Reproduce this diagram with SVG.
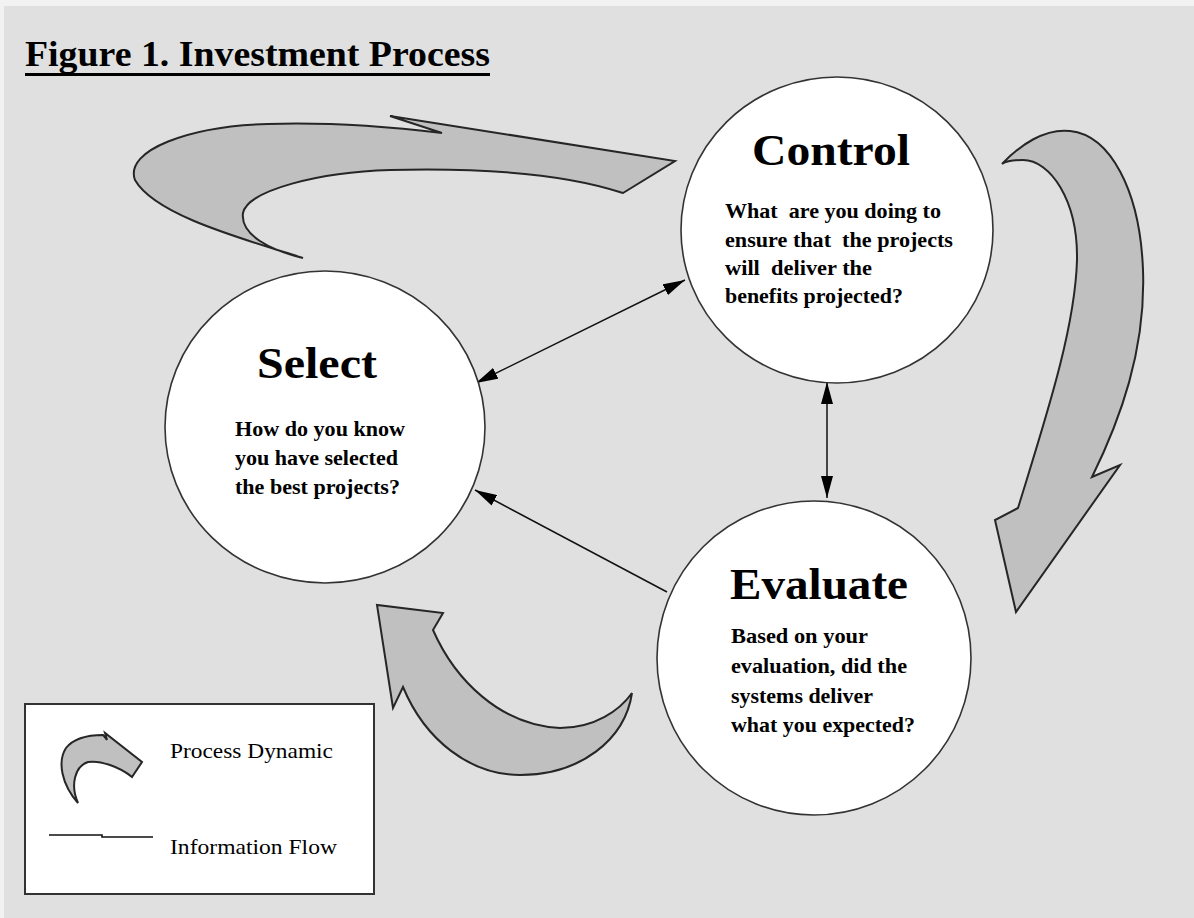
<svg xmlns="http://www.w3.org/2000/svg" width="1194" height="918" viewBox="0 0 1194 918">
  <style>
    .bg { fill: #e0e0e0; }
    .node { fill: #ffffff; stroke: #333333; stroke-width: 1.6; }
    .dyn { fill: #c0c0c0; stroke: #262626; stroke-width: 2; stroke-linejoin: miter; }
    .flow { fill: none; stroke: #111111; stroke-width: 1.5; }
    .head { font-family: "Liberation Serif", "Times New Roman", serif; font-weight: bold; font-size: 45px; fill: #000; }
    .body { font-family: "Liberation Serif", "Times New Roman", serif; font-weight: bold; font-size: 21px; fill: #000; }
    .title { font-family: "Liberation Serif", "Times New Roman", serif; font-weight: bold; font-size: 36px; fill: #000; }
    .legend { font-family: "Liberation Serif", "Times New Roman", serif; font-size: 22px; fill: #000; }
  </style>
  <defs>
    <marker id="tip" markerUnits="userSpaceOnUse" markerWidth="24" markerHeight="12" refX="22" refY="6" orient="auto-start-reverse">
      <path d="M0,0 L22,6 L0,12 z" fill="#000"/>
    </marker>
  </defs>

  <!-- page -->
  <rect x="0" y="0" width="1194" height="918" fill="#f2f2f2"/>
  <rect class="bg" x="4" y="6" width="1190" height="912"/>

  <!-- title -->
  <g id="title">
    <text class="title" x="25" y="66" textLength="465" lengthAdjust="spacingAndGlyphs">Figure 1. Investment Process</text>
    <rect x="25" y="73" width="465" height="3" fill="#000"/>
  </g>

  <!-- process dynamics (broad curved arrows) -->
  <g id="dynamics">
    <path class="dyn" d="M303,258 C240,238 155,215 135,180 C124,150 190,126 268,124 C330,122 400,128 442,133 L390,116 L675,161 L623,193 C560,172 470,168 390,170 C320,172 248,190 243,213 C240,235 270,250 303,258 Z"/>
    <path class="dyn" d="M1002,164 C1020,145 1045,128 1070,131 C1110,135 1140,190 1143,270 C1146,350 1120,420 1092,477 L1120,465 L1016,612 L995,520 L1018,508 C1045,420 1075,330 1077,260 C1078,200 1050,160 1023,160 C1012,160 1005,162 1002,164 Z"/>
    <path class="dyn" d="M632,693 C625,740 580,775 520,775 C470,775 425,740 403,687 L393,708 L377,605 L443,613 L433,630 C455,680 500,725 560,728 C595,728 620,710 632,693 Z"/>
  </g>

  <!-- information flows -->
  <g id="connectors">
    <line class="flow" x1="685" y1="280" x2="476" y2="383" marker-start="url(#tip)" marker-end="url(#tip)"/>
    <line class="flow" x1="827" y1="382" x2="827" y2="498" marker-start="url(#tip)" marker-end="url(#tip)"/>
    <line class="flow" x1="667" y1="592" x2="475" y2="490" marker-end="url(#tip)"/>
  </g>

  <!-- Control -->
  <g id="control">
    <ellipse class="node" cx="837" cy="230" rx="156" ry="153"/>
    <text class="head" x="752" y="165" textLength="158" lengthAdjust="spacingAndGlyphs">Control</text>
    <text class="body" x="725" y="218" textLength="216" lengthAdjust="spacingAndGlyphs" xml:space="preserve">What  are you doing to</text>
    <text class="body" x="725" y="247" textLength="228" lengthAdjust="spacingAndGlyphs" xml:space="preserve">ensure that  the projects</text>
    <text class="body" x="725" y="275" textLength="147" lengthAdjust="spacingAndGlyphs" xml:space="preserve">will  deliver the</text>
    <text class="body" x="725" y="303" textLength="178" lengthAdjust="spacingAndGlyphs">benefits projected?</text>
  </g>

  <!-- Select -->
  <g id="select">
    <ellipse class="node" cx="325" cy="427" rx="160" ry="156"/>
    <text class="head" x="257" y="378" textLength="120" lengthAdjust="spacingAndGlyphs">Select</text>
    <text class="body" x="235" y="436" textLength="170" lengthAdjust="spacingAndGlyphs">How do you know</text>
    <text class="body" x="235" y="465" textLength="163" lengthAdjust="spacingAndGlyphs">you have selected</text>
    <text class="body" x="235" y="494" textLength="165" lengthAdjust="spacingAndGlyphs">the best projects?</text>
  </g>

  <!-- Evaluate -->
  <g id="evaluate">
    <ellipse class="node" cx="814" cy="658" rx="157" ry="157"/>
    <text class="head" x="730" y="599" textLength="178" lengthAdjust="spacingAndGlyphs">Evaluate</text>
    <text class="body" x="731" y="643" textLength="137" lengthAdjust="spacingAndGlyphs">Based on your</text>
    <text class="body" x="731" y="673" textLength="176" lengthAdjust="spacingAndGlyphs">evaluation, did the</text>
    <text class="body" x="731" y="703" textLength="142" lengthAdjust="spacingAndGlyphs">systems deliver</text>
    <text class="body" x="731" y="732" textLength="184" lengthAdjust="spacingAndGlyphs">what you expected?</text>
  </g>

  <!-- legend -->
  <g id="legend">
    <rect x="25" y="704" width="349" height="190" fill="#ffffff" stroke="#333" stroke-width="2"/>
    <path class="dyn" stroke-width="1.6" d="M78,803 C62,785 57,762 66,748 C74,738 90,735 103,735 L107,740 L105,733 L142,762 L132,777 C120,767 100,760 88,762 C75,766 70,785 78,803 Z"/>
    <path d="M49,835 L102,835 L102,837 L153,837" fill="none" stroke="#111" stroke-width="1.6"/>
    <text class="legend" x="170" y="758" textLength="163" lengthAdjust="spacingAndGlyphs">Process Dynamic</text>
    <text class="legend" x="170" y="854" textLength="167" lengthAdjust="spacingAndGlyphs">Information Flow</text>
  </g>
</svg>
